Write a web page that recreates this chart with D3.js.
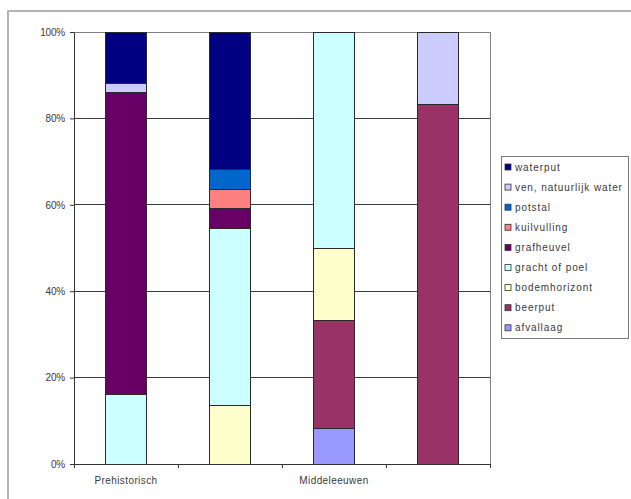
<!DOCTYPE html>
<html>
<head>
<meta charset="utf-8">
<script src="https://cdn.jsdelivr.net/npm/d3@7"></script>
<style>
  html, body { margin: 0; padding: 0; background: #fff; }
  svg { display: block; }
  text { font-family: "Liberation Sans", Arial, sans-serif; fill: #3a3a3a; }
</style>
</head>
<body>
<svg id="chart" width="631" height="499"></svg>
<script>
// Periods on the x axis (only every other label fits)
const categories = ["Prehistorisch", "", "Middeleeuwen", ""];
const tickLabels = ["Prehistorisch", "", "Middeleeuwen", ""];

// Feature types, stacked bottom to top
const seriesNames = ["afvallaag", "beerput", "bodemhorizont", "gracht of poel",
  "grafheuvel", "kuilvulling", "potstal", "ven, natuurlijk water", "waterput"];
const seriesColors = ["#9999FF", "#993366", "#FFFFCC", "#CCFFFF",
  "#660066", "#FF8080", "#0066CC", "#CCCCFF", "#000080"];

// Number of finds per feature type, one array per period
const prehistorisch = [0, 0, 0, 8, 35, 0, 0, 1, 6];
const periode2      = [0, 0, 3, 9, 1, 1, 1, 0, 7];
const middeleeuwen  = [1, 3, 2, 6, 0, 0, 0, 0, 0];
const periode4      = [0, 5, 0, 0, 0, 0, 0, 1, 0];
const counts = [prehistorisch, periode2, middeleeuwen, periode4];

const yTicks = [0, 0.2, 0.4, 0.6, 0.8, 1];

const svg = d3.select("#chart");

// Chart frame
svg.append("rect")
  .attr("x", 8).attr("y", 11).attr("width", 640).attr("height", 500)
  .attr("fill", "none").attr("stroke", "#b4b4b4").attr("stroke-width", 2);

const plot = { left: 74, top: 32, right: 490, bottom: 464 };

const x = d3.scaleBand()
  .domain(d3.range(categories.length))
  .range([plot.left, plot.right])
  .paddingInner(0.6).paddingOuter(0.3);
const band = d3.scaleBand()
  .domain(d3.range(categories.length))
  .range([plot.left, plot.right]);
const y = d3.scaleLinear().domain([0, 1]).range([plot.bottom, plot.top]);

// Gridlines
svg.append("g").selectAll("line").data(yTicks.slice(1)).join("line")
  .attr("x1", plot.left).attr("x2", plot.right)
  .attr("y1", d => y(d)).attr("y2", d => y(d))
  .attr("stroke", "#3a3a3a").attr("stroke-width", 1)
  .attr("shape-rendering", "crispEdges");

// Plot area border
svg.append("rect")
  .attr("x", plot.left).attr("y", plot.top)
  .attr("width", plot.right - plot.left).attr("height", plot.bottom - plot.top)
  .attr("fill", "none").attr("stroke", "#808080").attr("stroke-width", 1)
  .attr("shape-rendering", "crispEdges");

// 100% stacked bars
const table = counts.map((row, i) => {
  const total = d3.sum(row);
  const o = { idx: i };
  seriesNames.forEach((s, j) => { o[s] = row[j] / total; });
  return o;
});
const stacked = d3.stack().keys(seriesNames)(table);

svg.append("g").selectAll("g").data(stacked).join("g")
  .attr("fill", (d, i) => seriesColors[i])
  .selectAll("rect").data(d => d.filter(p => p[1] - p[0] > 0)).join("rect")
  .attr("x", d => x(d.data.idx))
  .attr("width", x.bandwidth())
  .attr("y", d => y(d[1]))
  .attr("height", d => y(d[0]) - y(d[1]))
  .attr("stroke", "#2a2a2a").attr("stroke-width", 1)
  .attr("shape-rendering", "crispEdges");

// Y axis
const yAxis = svg.append("g")
  .attr("transform", `translate(${plot.left},0)`)
  .call(d3.axisLeft(y).tickValues(yTicks).tickFormat(d3.format(".0%"))
    .tickSizeInner(4).tickSizeOuter(0).tickPadding(5));
yAxis.select(".domain").attr("stroke", "#333");
yAxis.selectAll(".tick line").attr("stroke", "#333");
yAxis.selectAll("text").attr("font-size", 10).attr("fill", "#3a3a3a")
  .style("letter-spacing", "-0.2px");

// X axis with ticks between categories
const xAxis = svg.append("g")
  .attr("transform", `translate(0,${plot.bottom})`);
xAxis.append("line")
  .attr("x1", plot.left).attr("x2", plot.right)
  .attr("stroke", "#333").attr("shape-rendering", "crispEdges");
xAxis.selectAll(".xt").data(d3.range(categories.length + 1)).join("line")
  .attr("class", "xt")
  .attr("x1", i => plot.left + i * band.bandwidth())
  .attr("x2", i => plot.left + i * band.bandwidth())
  .attr("y1", 0).attr("y2", 4)
  .attr("stroke", "#333").attr("shape-rendering", "crispEdges");
xAxis.selectAll(".xl").data(tickLabels).join("text")
  .attr("class", "xl")
  .attr("x", (d, i) => x(i) + x.bandwidth() / 2)
  .attr("y", 20)
  .attr("text-anchor", "middle")
  .attr("font-size", 10)
  .style("letter-spacing", "0.4px")
  .text(d => d);

// Legend (top entry = top of the stack)
const legend = svg.append("g");
legend.append("rect")
  .attr("x", 501).attr("y", 156).attr("width", 127).attr("height", 182)
  .attr("fill", "#fff").attr("stroke", "#7a7a7a").attr("stroke-width", 1)
  .attr("shape-rendering", "crispEdges");
const legendOrder = d3.range(seriesNames.length).reverse();
const items = legend.selectAll("g.item").data(legendOrder).join("g")
  .attr("class", "item")
  .attr("transform", (d, i) => `translate(505,${167 + i * 20.1})`);
items.append("rect")
  .attr("x", 0).attr("y", -3).attr("width", 6).attr("height", 6)
  .attr("fill", d => seriesColors[d]).attr("stroke", "#333").attr("stroke-width", 0.8);
items.append("text")
  .attr("x", 10).attr("y", 3.5)
  .attr("font-size", 10)
  .style("letter-spacing", "0.9px")
  .text(d => seriesNames[d]);
</script>
</body>
</html>
